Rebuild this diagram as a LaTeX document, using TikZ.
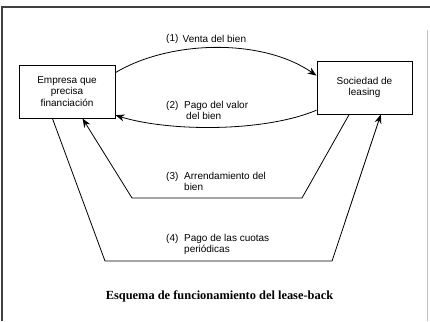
\documentclass[tikz,border=0pt]{standalone}
\usepackage{fontspec}
\setmainfont{Liberation Sans}
\newfontfamily\capfont{Liberation Serif}
\usetikzlibrary{arrows.meta,calc}
\begin{document}
\begin{tikzpicture}[x=1pt,y=-1pt,
  boxstyle/.style={draw, line width=1pt, minimum width=96pt, minimum height=53pt, inner sep=0pt, align=center, font=\fontsize{10}{11.5}\selectfont},
  conn/.style={line width=0.8pt, -{Stealth[length=9pt,width=7pt]}},
  lbl/.style={anchor=west, inner sep=0pt, font=\fontsize{10}{11.5}\selectfont, align=left},
  num/.style={anchor=west, inner sep=0pt, font=\fontsize{10}{11.5}\selectfont}]
\useasboundingbox (0,0) rectangle (430,321);
% frame
\draw[line width=1.1pt, black!75] (2,321) -- (2,7) -- (430,7);
\draw[line width=0.8pt, black!25] (427,30) -- (427,321);
% boxes
\node[boxstyle] (L) at (67,91.5) {Empresa que\\precisa\\financiación};
\node[boxstyle, minimum width=95pt] (R) at (364.5,87.5) {Sociedad de\\leasing};
% arrow 1
\draw[conn] ($(L.north east)!0.15!(L.south east)$) .. controls (170,40) and (262,38) .. ($(R.north west)!0.28!(R.south west)$);
% arrow 2
\draw[conn] ($(R.north west)!0.92!(R.south west)$) .. controls (265,132) and (170,132) .. ($(L.north east)!0.94!(L.south east)$);
% arrow 3
\coordinate (c3a) at (302,198);
\coordinate (c3b) at (132,198);
\draw[conn] ($(R.south west)!0.34!(R.south east)$) -- (c3a) -- (c3b) -- ($(L.south west)!0.66!(L.south east)$);
% arrow 4
\coordinate (c4a) at (105,261);
\coordinate (c4b) at (332,261);
\draw[conn] ($(L.south west)!0.35!(L.south east)$) -- (c4a) -- (c4b) -- ($(R.south west)!0.67!(R.south east)$);
% labels
\node[num] (n1) at (166,39) {(1)};
\node[lbl] (t1) at (182.5,39) {Venta del bien};
\node[num] (n2) at (166,106) {(2)};
\node[lbl, anchor=north west] (t2) at (184,101) {Pago del valor\\\hspace*{2pt}del bien};
\node[num] (n3) at (166,177) {(3)};
\node[lbl, anchor=north west] (t3) at (184,172) {Arrendamiento del\\bien};
\node[num] (n4) at (166,239) {(4)};
\node[lbl, anchor=north west] (t4) at (184,234) {Pago de las cuotas\\periódicas};
% caption
\node[inner sep=0pt, font=\capfont\bfseries\fontsize{12.4}{14}\selectfont] (cap) at (219.5,296) {Esquema de funcionamiento del lease-back};
\end{tikzpicture}
\end{document}
